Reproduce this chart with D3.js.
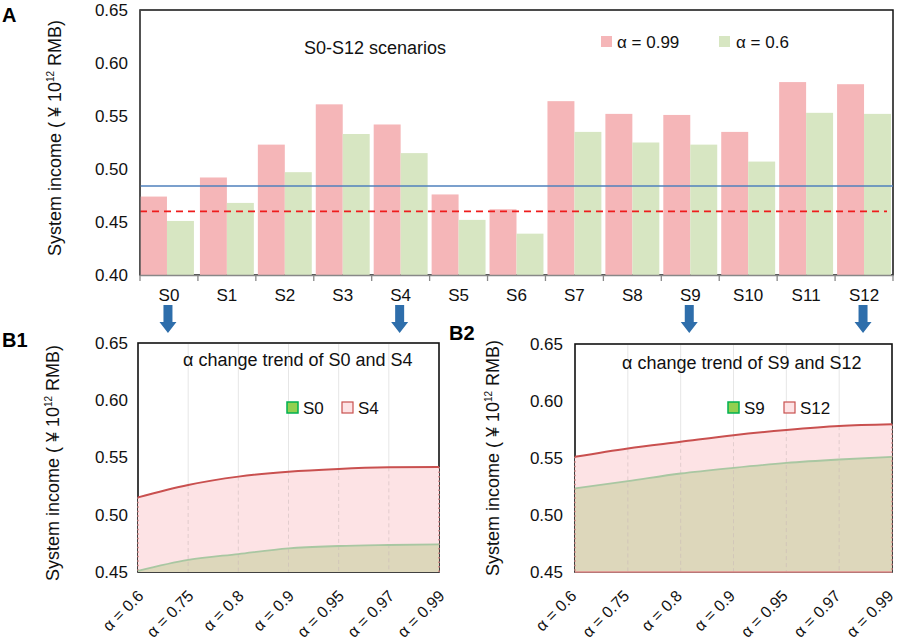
<!DOCTYPE html>
<html><head><meta charset="utf-8">
<script src="https://cdn.jsdelivr.net/npm/d3@7/dist/d3.min.js"></script>
<style>body{margin:0;background:#fff}svg{display:block;font-family:"Liberation Sans",Arial,sans-serif}</style>
</head><body><svg id="c" width="899" height="643"></svg>
<script>
// ---------- data ----------
const scenarios = ["S0","S1","S2","S3","S4","S5","S6","S7","S8","S9","S10","S11","S12"];
const alpha099 = [0.474,0.492,0.523,0.561,0.542,0.476,0.462,0.564,0.552,0.551,0.535,0.582,0.580];
const alpha06  = [0.451,0.468,0.497,0.533,0.515,0.452,0.439,0.535,0.525,0.523,0.507,0.553,0.552];
const blueLine = 0.484;
const redDashed = 0.46;
const yTicksA = [0.40,0.45,0.50,0.55,0.60,0.65];
const alphaLevels = ["α = 0.6","α = 0.75","α = 0.8","α = 0.9","α = 0.95","α = 0.97","α = 0.99"];
const s0Trend  = [0.451,0.4605,0.4657,0.4707,0.4727,0.4736,0.4742];
const s4Trend  = [0.5152,0.526,0.5333,0.5376,0.540,0.5414,0.5418];
const s9Trend  = [0.5233,0.5297,0.5364,0.5414,0.5457,0.5487,0.551];
const s12Trend = [0.551,0.5584,0.5642,0.570,0.5745,0.578,0.5795];
const yTicksB = [0.45,0.50,0.55,0.60,0.65];
const arrowTargets = ["S0","S4","S9","S12"];

const svg = d3.select("#c");
const FONT = 17;
const pink = "#f5b6b8", green = "#d7e6c2";

function yLabel(g, x, y) {
  const t = g.append("text").attr("transform",`translate(${x},${y}) rotate(-90)`)
    .attr("text-anchor","middle").attr("font-size",18).attr("fill","#111");
  t.append("tspan").text("System income ( ¥ 10");
  t.append("tspan").attr("font-size",10).attr("dy",-7).text("12");
  t.append("tspan").attr("dy",7).text("  RMB)");
}

// ---------- Panel A ----------
const A = {x0:140,x1:893,y0:10,y1:275};
const xAb = d3.scaleBand().domain(scenarios).range([A.x0,A.x1]);
const yA = d3.scaleLinear().domain([0.40,0.65]).range([A.y1,A.y0]);
const gA = svg.append("g");
gA.append("rect").attr("x",A.x0).attr("y",A.y0).attr("width",A.x1-A.x0).attr("height",A.y1-A.y0)
  .attr("fill","none").attr("stroke","#111").attr("stroke-width",1.5);
const sub = d3.scaleBand().domain(["a","b"]).range([0,xAb.bandwidth()-4]);
scenarios.forEach((s,i)=>{
  const bx = xAb(s)+ (i===0?0:2);
  gA.append("rect").attr("x",bx).attr("width",sub.bandwidth()).attr("y",yA(alpha099[i])).attr("height",yA(0.40)-yA(alpha099[i])).attr("fill",pink);
  gA.append("rect").attr("x",bx+sub.bandwidth()).attr("width",sub.bandwidth()).attr("y",yA(alpha06[i])).attr("height",yA(0.40)-yA(alpha06[i])).attr("fill",green);
});
gA.append("line").attr("x1",A.x0).attr("x2",A.x1).attr("y1",yA(blueLine)).attr("y2",yA(blueLine)).attr("stroke","#4f81bd").attr("stroke-width",1.5);
gA.append("line").attr("x1",A.x0).attr("x2",A.x1-6).attr("y1",yA(redDashed)).attr("y2",yA(redDashed)).attr("stroke","#ee1c1c").attr("stroke-width",1.8).attr("stroke-dasharray","7,5");
gA.append("line").attr("x1",A.x0).attr("x2",A.x0).attr("y1",A.y0).attr("y2",A.y1).attr("stroke","#555").attr("stroke-width",1.5);
// x axis
const axA = gA.append("g").attr("transform",`translate(0,${A.y1})`)
  .call(d3.axisBottom(xAb).tickSize(0).tickPadding(14));
axA.select(".domain").attr("stroke","#888").attr("stroke-width",1.5);
axA.selectAll("text").attr("font-size",FONT).attr("fill","#111").attr("font-family","Liberation Sans, Arial");
scenarios.concat(["end"]).forEach((s,i)=>{
  const x = A.x0 + i*xAb.step();
  gA.append("line").attr("x1",x).attr("x2",x).attr("y1",A.y1).attr("y2",A.y1+6).attr("stroke","#888").attr("stroke-width",1.3);
});
const ayA = gA.append("g").attr("transform",`translate(${A.x0},0)`)
  .call(d3.axisLeft(yA).tickValues(yTicksA).tickFormat(d3.format(".2f")).tickSize(0).tickPadding(12));
ayA.select(".domain").remove();
ayA.selectAll("text").attr("font-size",FONT).attr("fill","#111").attr("font-family","Liberation Sans, Arial");
yLabel(gA,61,138);
gA.append("text").attr("x",2).attr("y",22).attr("font-size",20).attr("font-weight","bold").text("A");
gA.append("text").attr("x",304).attr("y",54).attr("font-size",18).attr("fill","#111").text("S0-S12 scenarios");
gA.append("rect").attr("x",601).attr("y",36).attr("width",11).attr("height",11).attr("fill",pink);
gA.append("text").attr("x",617).attr("y",48).attr("font-size",FONT).attr("fill","#111").text("α = 0.99");
gA.append("rect").attr("x",719).attr("y",36).attr("width",11).attr("height",11).attr("fill",green);
gA.append("text").attr("x",736).attr("y",48).attr("font-size",FONT).attr("fill","#111").text("α = 0.6");

// arrows
arrowTargets.forEach(s=>{
  const cx = xAb(s)+xAb.bandwidth()/2 - 1;
  const top=305, neck=322, tip=333, sw=4.5, hw=8.5;
  gA.append("path").attr("d",`M${cx-sw},${top}H${cx+sw}V${neck}H${cx+hw}L${cx},${tip}L${cx-hw},${neck}H${cx-sw}Z`)
    .attr("fill","#2e6eab");
});

// ---------- Panels B ----------
function panelB(P, lowTrend, highTrend, lowName, highName, title, titleX, titleY, leg, lab, labX, labY, yLabX, baseline) {
  const g = svg.append("g");
  const x = d3.scalePoint().domain(alphaLevels).range([P.x0,P.x1]);
  const y = d3.scaleLinear().domain([0.45,0.65]).range([P.y1,P.y0]);
  g.append("rect").attr("x",P.x0).attr("y",P.y0).attr("width",P.x1-P.x0).attr("height",P.y1-P.y0)
    .attr("fill","#fff").attr("stroke","#111").attr("stroke-width",1.6);
  alphaLevels.slice(1,-1).forEach(a=>{
    g.append("line").attr("x1",x(a)).attr("x2",x(a)).attr("y1",P.y0+1).attr("y2",P.y1).attr("stroke","#e6e6e6").attr("stroke-width",1);
  });
  const curve = d3.curveMonotoneX;
  const area = d3.area().x((d,i)=>x(alphaLevels[i])).y0(y(0.45)).y1(d=>y(d)).curve(curve);
  const line = d3.line().x((d,i)=>x(alphaLevels[i])).y(d=>y(d)).curve(curve);
  g.append("path").attr("d",area(highTrend)).attr("fill","#fde3e5");
  g.append("path").attr("d",area(lowTrend)).attr("fill","#ddd7bb");
  alphaLevels.slice(1,-1).forEach(a=>{
    g.append("line").attr("x1",x(a)).attr("x2",x(a)).attr("y1",y(highTrend[alphaLevels.indexOf(a)])).attr("y2",P.y1)
      .attr("stroke","#c8b8b8").attr("stroke-opacity",0.5).attr("stroke-width",1).attr("stroke-dasharray","4,3");
  });
  [0,alphaLevels.length-1].forEach(i=>{
    g.append("line").attr("x1",x(alphaLevels[i])).attr("x2",x(alphaLevels[i])).attr("y1",y(highTrend[i])).attr("y2",P.y1)
      .attr("stroke","#d08080").attr("stroke-width",1.5).attr("stroke-dasharray","1.5,3");
  });
  if (baseline) g.append("line").attr("x1",P.x0).attr("x2",P.x1).attr("y1",P.y1).attr("y2",P.y1).attr("stroke","#e08a8a").attr("stroke-width",1.5);
  g.append("path").attr("d",line(lowTrend)).attr("fill","none").attr("stroke","#a9c7a2").attr("stroke-width",1.8);
  g.append("path").attr("d",line(highTrend)).attr("fill","none").attr("stroke","#c9504f").attr("stroke-width",2);
  const ay = g.append("g").attr("transform",`translate(${P.x0},0)`)
    .call(d3.axisLeft(y).tickValues(yTicksB).tickFormat(d3.format(".2f")).tickSize(0).tickPadding(P.pad));
  ay.select(".domain").remove();
  ay.selectAll("text").attr("font-size",FONT).attr("fill","#111").attr("font-family","Liberation Sans, Arial");
  const ax = g.append("g").attr("transform",`translate(0,${P.y1})`).call(d3.axisBottom(x).tickSize(0).tickPadding(0));
  ax.select(".domain").remove();
  ax.selectAll("text").attr("font-size",16).attr("fill","#111").attr("font-family","Liberation Sans, Arial")
    .attr("text-anchor","end").attr("dy",0).attr("transform",`translate(${P.ldx},25) rotate(-45)`);
  yLabel(g,yLabX,P.labY);
  g.append("text").attr("x",labX).attr("y",labY).attr("font-size",20).attr("font-weight","bold").text(lab);
  g.append("text").attr("x",titleX).attr("y",titleY).attr("font-size",18).attr("fill","#111").text(title);
  g.append("rect").attr("x",leg[0]).attr("y",402).attr("width",11).attr("height",11).attr("fill","#92d050").attr("stroke","#00b050").attr("stroke-width",1.5);
  g.append("text").attr("x",leg[0]+16).attr("y",414).attr("font-size",FONT).attr("fill","#111").text(lowName);
  g.append("rect").attr("x",leg[1]).attr("y",402).attr("width",11).attr("height",11).attr("fill","#fde3e5").attr("stroke","#c9504f").attr("stroke-width",1.2);
  g.append("text").attr("x",leg[1]+16).attr("y",414).attr("font-size",FONT).attr("fill","#111").text(highName);
}
panelB({x0:138,x1:439,y0:343,y1:572,pad:10,labY:463,ldx:6}, s0Trend, s4Trend, "S0","S4",
  "α change trend of S0 and S4", 183, 366, [287,342], "B1", 2, 347, 59, false);
panelB({x0:575,x1:892,y0:344,y1:572,pad:12,labY:458,ldx:2}, s9Trend, s12Trend, "S9","S12",
  "α change trend of S9 and S12", 622, 369, [728,784], "B2", 449, 340, 499, true);
</script></body></html>
